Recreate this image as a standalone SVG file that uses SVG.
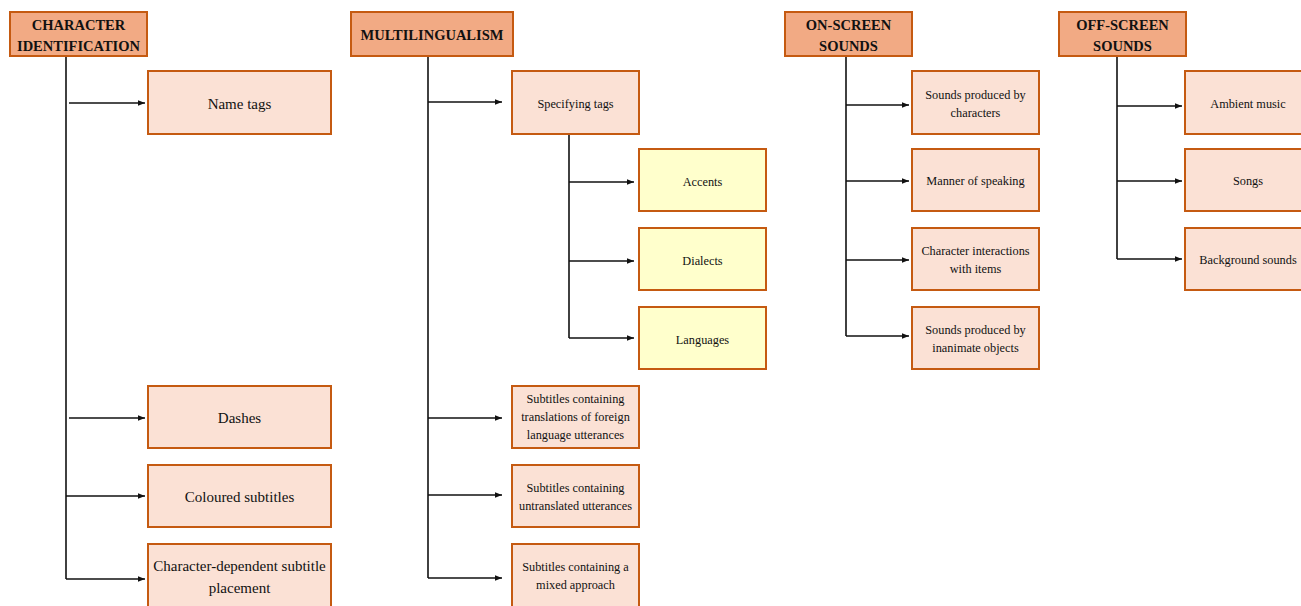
<svg xmlns="http://www.w3.org/2000/svg" width="1301" height="606" viewBox="0 0 1301 606">
<defs>
<marker id="ah" viewBox="0 0 10 10" refX="10" refY="5" markerWidth="7" markerHeight="7" orient="auto" markerUnits="userSpaceOnUse">
<path d="M0,1 L10,5 L0,9 z" fill="#111"/>
</marker>
<style>
.hd{fill:#F2AA84;stroke:#C55A11;stroke-width:2}
.ch{fill:#FBE1D5;stroke:#C55A11;stroke-width:2}
.yl{fill:#FFFFCC;stroke:#C55A11;stroke-width:2}
.ht{font-family:"Liberation Serif","Times New Roman",serif;font-weight:bold;font-size:14.5px;fill:#111;text-anchor:middle}
.t15{font-family:"Liberation Serif","Times New Roman",serif;font-size:15px;fill:#111;text-anchor:middle}
.t12{font-family:"Liberation Serif","Times New Roman",serif;font-size:12.3px;fill:#111;text-anchor:middle}
.ln{fill:none;stroke:#111;stroke-width:1.6}
.ar{fill:none;stroke:#111;stroke-width:1.6;marker-end:url(#ah)}
</style>
</defs>
<rect width="1301" height="606" fill="#fff"/>
<g id="connectors">
<path class="ln" d="M66,56 V579"/>
<path class="ar" d="M69,103 H145"/>
<path class="ar" d="M69,418 H145"/>
<path class="ar" d="M66,496 H145"/>
<path class="ar" d="M66,579 H145"/>
<path class="ln" d="M428,56 V578"/>
<path class="ar" d="M428,102 H502"/>
<path class="ar" d="M428,418 H502"/>
<path class="ar" d="M428,495 H502"/>
<path class="ar" d="M428,578 H502"/>
<path class="ln" d="M569,134 V338"/>
<path class="ar" d="M569,182 H634"/>
<path class="ar" d="M569,261 H634"/>
<path class="ar" d="M569,338 H634"/>
<path class="ln" d="M846,56 V336"/>
<path class="ar" d="M846,105 H909"/>
<path class="ar" d="M846,181 H909"/>
<path class="ar" d="M846,260 H909"/>
<path class="ar" d="M846,336 H909"/>
<path class="ln" d="M1117,56 V259"/>
<path class="ar" d="M1117,106 H1182"/>
<path class="ar" d="M1117,181 H1182"/>
<path class="ar" d="M1117,259 H1182"/>
</g>
<g id="character-identification"><rect class="hd" x="10" y="12" width="137" height="44"/><text class="ht" x="78.5" y="30">CHARACTER</text><text class="ht" x="78.5" y="51">IDENTIFICATION</text></g>
<g id="name-tags"><rect class="ch" x="148" y="71" width="183" height="63"/><text class="t15" x="239.5" y="109">Name tags</text></g>
<g id="dashes"><rect class="ch" x="148" y="386" width="183" height="62"/><text class="t15" x="239.5" y="423">Dashes</text></g>
<g id="coloured-subtitles"><rect class="ch" x="148" y="465" width="183" height="62"/><text class="t15" x="239.5" y="502">Coloured subtitles</text></g>
<g id="character-dependent"><rect class="ch" x="148" y="544" width="183" height="70"/><text class="t15" x="239.5" y="571">Character-dependent subtitle</text><text class="t15" x="239.5" y="593">placement</text></g>
<g id="multilingualism"><rect class="hd" x="351" y="12" width="162" height="44"/><text class="ht" x="432" y="40">MULTILINGUALISM</text></g>
<g id="specifying-tags"><rect class="ch" x="512" y="71" width="127" height="63"/><text class="t12" x="575.5" y="108">Specifying tags</text></g>
<g id="accents"><rect class="yl" x="639" y="149" width="127" height="62"/><text class="t12" x="702.5" y="186">Accents</text></g>
<g id="dialects"><rect class="yl" x="639" y="228" width="127" height="62"/><text class="t12" x="702.5" y="265">Dialects</text></g>
<g id="languages"><rect class="yl" x="639" y="307" width="127" height="62"/><text class="t12" x="702.5" y="344">Languages</text></g>
<g id="subtitles-translations"><rect class="ch" x="512" y="386" width="127" height="62"/><text class="t12" x="575.5" y="403">Subtitles containing</text><text class="t12" x="575.5" y="421">translations of foreign</text><text class="t12" x="575.5" y="439">language utterances</text></g>
<g id="subtitles-untranslated"><rect class="ch" x="512" y="465" width="127" height="62"/><text class="t12" x="575.5" y="492">Subtitles containing</text><text class="t12" x="575.5" y="510">untranslated utterances</text></g>
<g id="subtitles-mixed"><rect class="ch" x="512" y="544" width="127" height="70"/><text class="t12" x="575.5" y="571">Subtitles containing a</text><text class="t12" x="575.5" y="589">mixed approach</text></g>
<g id="on-screen-sounds"><rect class="hd" x="785" y="12" width="127" height="44"/><text class="ht" x="848.5" y="30">ON-SCREEN</text><text class="ht" x="848.5" y="51">SOUNDS</text></g>
<g id="sounds-characters"><rect class="ch" x="912" y="71" width="127" height="63"/><text class="t12" x="975.5" y="99">Sounds produced by</text><text class="t12" x="975.5" y="117">characters</text></g>
<g id="manner-of-speaking"><rect class="ch" x="912" y="149" width="127" height="62"/><text class="t12" x="975.5" y="185">Manner of speaking</text></g>
<g id="character-interactions"><rect class="ch" x="912" y="228" width="127" height="62"/><text class="t12" x="975.5" y="255">Character interactions</text><text class="t12" x="975.5" y="273">with items</text></g>
<g id="sounds-inanimate"><rect class="ch" x="912" y="307" width="127" height="62"/><text class="t12" x="975.5" y="334">Sounds produced by</text><text class="t12" x="975.5" y="352">inanimate objects</text></g>
<g id="off-screen-sounds"><rect class="hd" x="1059" y="12" width="127" height="44"/><text class="ht" x="1122.5" y="30">OFF-SCREEN</text><text class="ht" x="1122.5" y="51">SOUNDS</text></g>
<g id="ambient-music"><rect class="ch" x="1185" y="71" width="130" height="63"/><text class="t12" x="1248" y="108">Ambient music</text></g>
<g id="songs"><rect class="ch" x="1185" y="149" width="130" height="62"/><text class="t12" x="1248" y="185">Songs</text></g>
<g id="background-sounds"><rect class="ch" x="1185" y="228" width="130" height="62"/><text class="t12" x="1248" y="264">Background sounds</text></g>
</svg>
